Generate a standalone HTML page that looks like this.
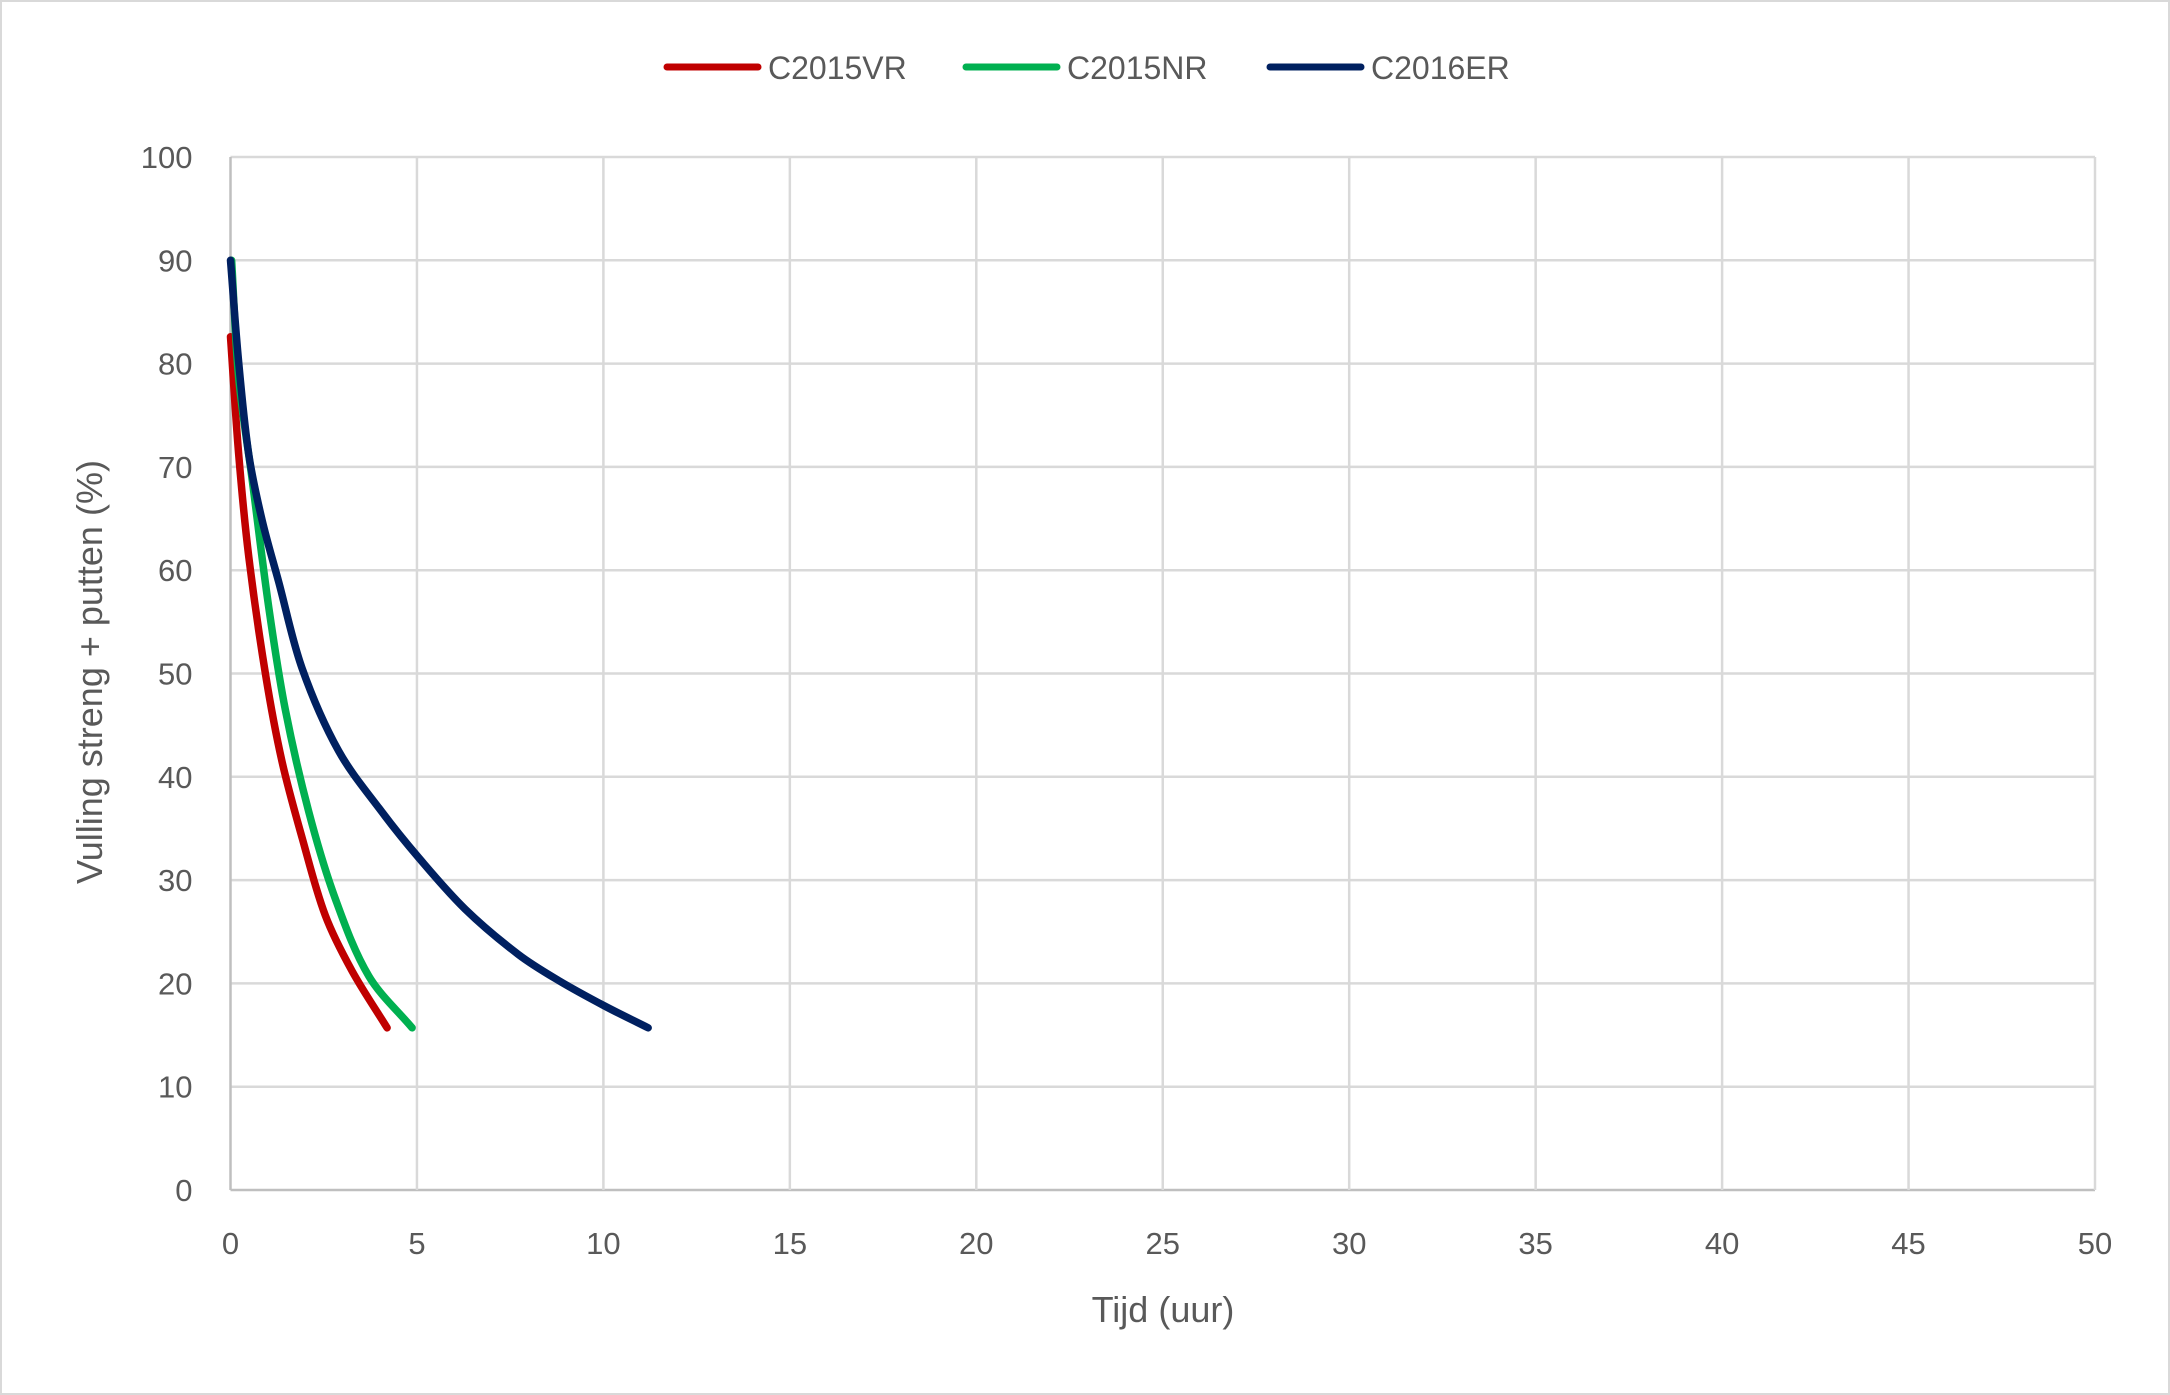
<!DOCTYPE html>
<html><head><meta charset="utf-8"><style>
html,body{margin:0;padding:0;background:#fff}
svg{display:block;font-family:"Liberation Sans",sans-serif}
</style></head><body>
<svg id="chart" width="2170" height="1395">
<rect x="1" y="1" width="2168" height="1393" fill="#fff" stroke="#d9d9d9" stroke-width="2"/>
<g id="grid"></g>
<g id="series"></g>
<g id="legend"></g>
<text x="1163" y="1322" text-anchor="middle" font-size="36" fill="#595959">Tijd (uur)</text>
<text transform="translate(102,672) rotate(-90)" text-anchor="middle" font-size="36" fill="#595959">Vulling streng + putten (%)</text>
</svg>
<script>
const xTicks=[0,5,10,15,20,25,30,35,40,45,50];
const yTicks=[0,10,20,30,40,50,60,70,80,90,100];
const seriesNames=["C2015VR","C2015NR","C2016ER"];
const seriesColors=["#c00000","#00b050","#002060"];
const vrX=[0,0.22,0.49,0.94,1.38,1.92,2.54,3.26,4.2];
const vrY=[82.6,71.2,61.3,49.9,41.5,34.1,26.6,21.2,15.7];
const nrX=[0.03,0.22,0.58,1.03,1.47,2.1,2.81,3.71,4.87];
const nrY=[90,78.6,68.8,56.3,46.5,36.6,28.2,20.7,15.7];
const erX=[0,0.22,0.49,0.85,1.29,1.92,2.9,4.06,5.04,6.29,7.72,8.79,10.04,11.2];
const erY=[90,80.1,71.2,64.8,58.9,50.5,42.5,36.6,32.2,27.2,22.8,20.3,17.8,15.7];
const L=230.5,R=2095,T=157,B=1190;
const sx=v=>L+(v-0)/50*(R-L);
const sy=v=>B-(v-0)/100*(B-T);
const NS="http://www.w3.org/2000/svg";
function mk(tag,attrs,parent){const e=document.createElementNS(NS,tag);for(const k in attrs)e.setAttribute(k,attrs[k]);parent.appendChild(e);return e;}
const grid=document.getElementById('grid');
yTicks.forEach(v=>{
 const ln=mk('line',{x1:L,x2:R,y1:sy(v),y2:sy(v),stroke:v===0?'#bfbfbf':'#d9d9d9','stroke-width':2.5},grid);
 
 
 const t=mk('text',{x:L-38,y:sy(v)+11,'text-anchor':'end','font-size':31,fill:'#595959'},grid);
 t.textContent=v;
 
 
});
xTicks.forEach(v=>{
 const ln=mk('line',{x1:sx(v),x2:sx(v),y1:T,y2:B,stroke:v===0?'#bfbfbf':'#d9d9d9','stroke-width':2.5},grid);
 
 
 const t=mk('text',{x:sx(v),y:1254,'text-anchor':'middle','font-size':31,fill:'#595959'},grid);
 t.textContent=v;
 
 
});
function smooth(xs,ys){
 const p=xs.map((x,i)=>[sx(x),sy(ys[i])]);
 const n=p.length;
 const dist=(a,b)=>Math.hypot(a[0]-b[0],a[1]-b[1]);
 // tangents
 const tg=p.map((pt,i)=>{
  const a=p[Math.max(0,i-1)],b=p[Math.min(n-1,i+1)];
  const d=dist(a,b)||1;
  return [(b[0]-a[0])/d,(b[1]-a[1])/d];
 });
 let d='M'+p[0][0]+','+p[0][1];
 for(let i=0;i<n-1;i++){
  const s=dist(p[i],p[i+1])/3;
  const c1=[p[i][0]+tg[i][0]*s,p[i][1]+tg[i][1]*s];
  const c2=[p[i+1][0]-tg[i+1][0]*s,p[i+1][1]-tg[i+1][1]*s];
  d+=` C${c1[0]},${c1[1]} ${c2[0]},${c2[1]} ${p[i+1][0]},${p[i+1][1]}`;
 }
 return d;
}
const sg=document.getElementById('series');
const data=[[vrX,vrY],[nrX,nrY],[erX,erY]];
const names=['line-c2015vr','line-c2015nr','line-c2016er'];
data.forEach((s,i)=>{
 const p=mk('path',{d:smooth(s[0],s[1]),fill:'none',stroke:seriesColors[i],'stroke-width':7.5,'stroke-linecap':'round','stroke-linejoin':'round'},sg);
 
 
});
const lg=document.getElementById('legend');
const lx=[667,966,1270];
seriesNames.forEach((n,i)=>{
 const g=mk('g',{},lg);
 
 
 mk('line',{x1:lx[i],x2:lx[i]+91,y1:67,y2:67,stroke:seriesColors[i],'stroke-width':7,'stroke-linecap':'round'},g);
 const t=mk('text',{x:lx[i]+101,y:79,'font-size':32,fill:'#595959'},g);
 t.textContent=n;
 
 
});
</script>
</body></html>
